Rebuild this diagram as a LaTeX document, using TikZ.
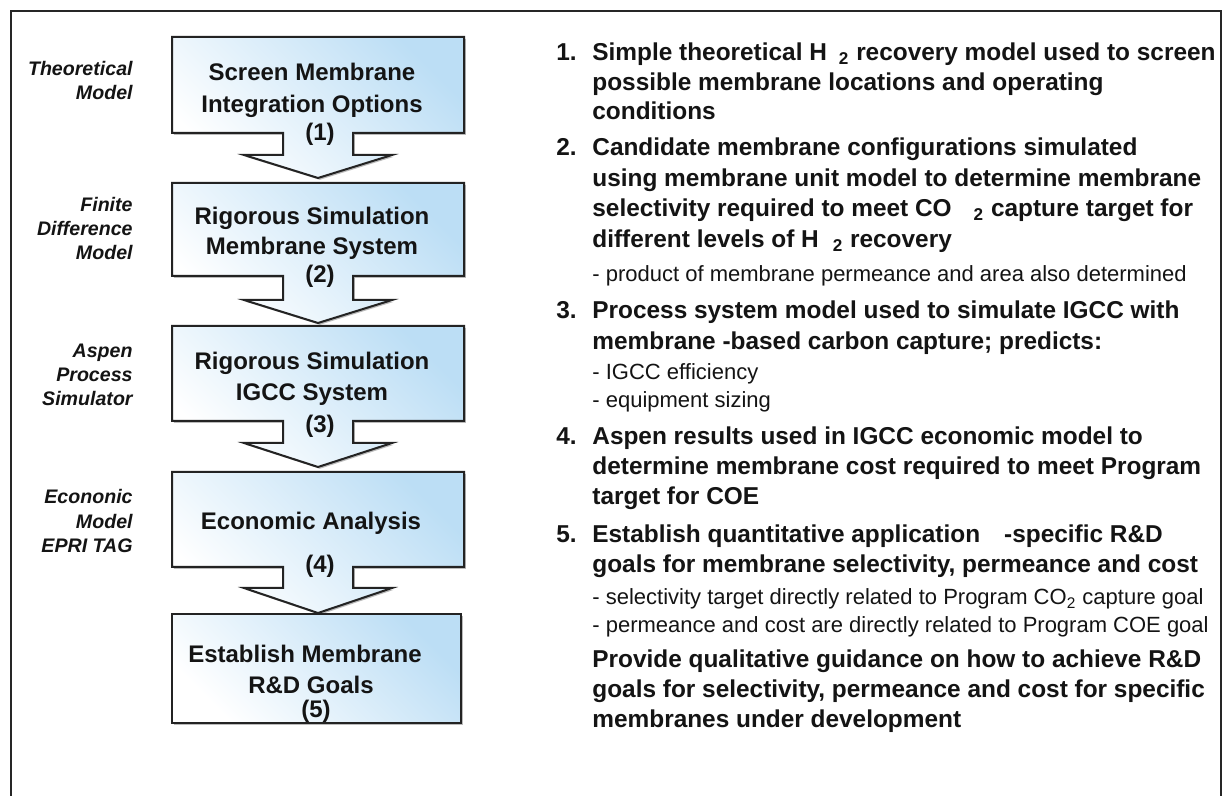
\documentclass[tikz,border=0pt]{standalone}
\usepackage{fontspec}
\setmainfont{Liberation Sans}
\usetikzlibrary{shadows}
\definecolor{boxblue}{RGB}{188,222,245}
\definecolor{edgegray}{RGB}{35,35,35}
\definecolor{inkc}{RGB}{20,20,20}
\tikzset{
  flowbox/.style={draw=edgegray, line width=1pt, line join=miter,
    top color=boxblue, bottom color=white, shading angle=-45,
    drop shadow={shadow xshift=0.9pt, shadow yshift=-0.9pt, fill=black!45, opacity=0.6}},
  boxtxt/.style={anchor=base, inner sep=0pt, text=inkc, font=\bfseries\fontsize{12}{14}\selectfont},
  sidetxt/.style={anchor=base east, inner sep=0pt, text=inkc, font=\bfseries\itshape\fontsize{9.8}{12}\selectfont},
  numtxt/.style={anchor=base west, inner sep=0pt, text=inkc, font=\bfseries\fontsize{12.2}{14}\selectfont},
  maintxt/.style={anchor=base west, inner sep=0pt, text=inkc, font=\bfseries\fontsize{12.2}{14}\selectfont},
  subtxt/.style={anchor=base west, inner sep=0pt, text=inkc, font=\fontsize{11}{13}\selectfont},
  framebox/.style={draw=black!85, line width=1.3pt}
}
\newcommand{\flowshape}[4]{%
  \path[flowbox] (172,#1) -- (464,#1) -- (464,#2) -- (353,#2) -- (353,#3) -- (392,#3)
    -- (318,#4) -- (244,#3) -- (283,#3) -- (283,#2) -- (172,#2) -- cycle;}
\begin{document}
\begin{tikzpicture}[x=0.5pt,y=-0.5pt]
\useasboundingbox (0,0) rectangle (1228,796);
\fill[white] (0,0) rectangle (1228,796);
\begin{scope}
\clip (0,0) rectangle (1228,796);
\draw[framebox] (11,11) rectangle (1221,830);
\end{scope}

% flow shapes
\flowshape{37}{133}{155}{178}
\flowshape{183}{276}{300}{323}
\flowshape{326}{421}{443}{467}
\flowshape{472}{567}{588}{613}
\path[flowbox] (172,614) rectangle (461,723);

% box texts
\node[boxtxt] (b1a) at (312,81) {Screen Membrane};
\node[boxtxt] (b1b) at (312,113) {Integration Options};
\node[boxtxt] (b1c) at (320,141) {(1)};
\node[boxtxt] (b2a) at (312,225) {Rigorous Simulation};
\node[boxtxt] (b2b) at (312,255) {Membrane System};
\node[boxtxt] (b2c) at (320,283) {(2)};
\node[boxtxt] (b3a) at (312,370) {Rigorous Simulation};
\node[boxtxt] (b3b) at (312,401) {IGCC System};
\node[boxtxt] (b3c) at (320,433) {(3)};
\node[boxtxt] (b4a) at (311,530) {Economic Analysis};
\node[boxtxt] (b4c) at (320,573) {(4)};
\node[boxtxt] (b5a) at (305,663) {Establish Membrane};
\node[boxtxt] (b5b) at (311,694) {R\&D Goals};
\node[boxtxt] (b5c) at (316,718) {(5)};

% side labels
\node[sidetxt] (s1a) at (133,76) {Theoretical};
\node[sidetxt] (s1b) at (133,100) {Model};
\node[sidetxt] (s2a) at (133,212) {Finite};
\node[sidetxt] (s2b) at (133,236) {Difference};
\node[sidetxt] (s2c) at (133,260) {Model};
\node[sidetxt] (s3a) at (133,358) {Aspen};
\node[sidetxt] (s3b) at (133,382) {Process};
\node[sidetxt] (s3c) at (133,406) {Simulator};
\node[sidetxt] (s4a) at (133,504) {Econonic};
\node[sidetxt] (s4b) at (133,529) {Model};
\node[sidetxt] (s4c) at (133,553) {EPRI TAG};

% numbered list
\node[numtxt] (n1) at (556,61) {1.};
\node[maintxt] (t1a) at (592,61) {Simple theoretical H\hspace{6pt}\textsubscript{2} recovery model used to screen};
\node[maintxt] (t1b) at (592,91) {possible membrane locations and operating};
\node[maintxt] (t1c) at (592,120) {conditions};

\node[numtxt] (n2) at (556,156) {2.};
\node[maintxt] (t2a) at (592,156) {Candidate membrane configurations simulated};
\node[maintxt] (t2b) at (592,187) {using membrane unit model to determine membrane};
\node[maintxt] (t2c) at (592,217) {selectivity required to meet CO\hspace{11pt}\textsubscript{2} capture target for};
\node[maintxt] (t2d) at (592,248) {different levels of H\hspace{7pt}\textsubscript{2} recovery};
\node[subtxt] (t2e) at (592,282) {- product of membrane permeance and area also determined};

\node[numtxt] (n3) at (556,319) {3.};
\node[maintxt] (t3a) at (592,319) {Process system model used to simulate IGCC with};
\node[maintxt] (t3b) at (592,350) {membrane -based carbon capture; predicts:};
\node[subtxt] (t3c) at (592,380) {- IGCC efficiency};
\node[subtxt] (t3d) at (592,408) {- equipment sizing};

\node[numtxt] (n4) at (556,445) {4.};
\node[maintxt] (t4a) at (592,445) {Aspen results used in IGCC economic model to};
\node[maintxt] (t4b) at (592,475) {determine membrane cost required to meet Program};
\node[maintxt] (t4c) at (592,505) {target for COE};

\node[numtxt] (n5) at (556,543) {5.};
\node[maintxt] (t5a) at (592,543) {Establish quantitative application\hspace{12pt}-specific R\&D};
\node[maintxt] (t5b) at (592,573) {goals for membrane selectivity, permeance and cost};
\node[subtxt] (t5c) at (592,605) {- selectivity target directly related to Program CO\textsubscript{2} capture goal};
\node[subtxt] (t5d) at (592,633) {- permeance and cost are directly related to Program COE goal};
\node[maintxt] (t5e) at (592,668) {Provide qualitative guidance on how to achieve R\&D};
\node[maintxt] (t5f) at (592,698) {goals for selectivity, permeance and cost for specific};
\node[maintxt] (t5g) at (592,728) {membranes under development};
\end{tikzpicture}
\end{document}
